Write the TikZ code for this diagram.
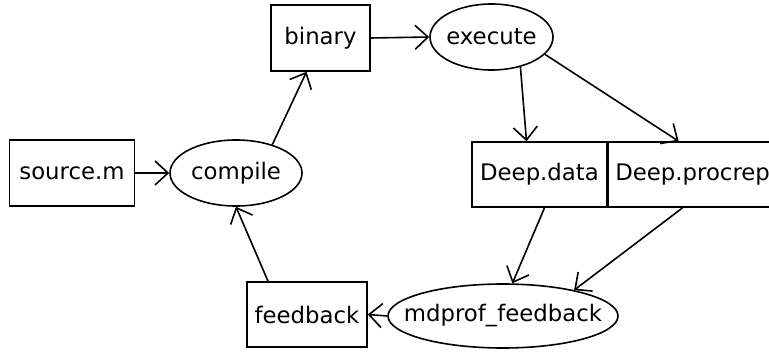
\documentclass[tikz,border=0pt]{standalone}
\usepackage{fontspec}
\setmainfont{DejaVu Sans}
\usetikzlibrary{shapes.geometric,arrows.meta}
\begin{document}
\begin{tikzpicture}[x=0.5pt,y=-0.5pt,
        every node/.style={font=\fontsize{11.4}{13}\selectfont,inner sep=0pt,line width=0.8pt},
        filebox/.style={draw,rectangle,minimum height=33pt},
        stepnode/.style={draw,ellipse,minimum height=33pt},
        flow/.style={line width=0.8pt,-{Straight Barb[length=6.5pt,width=12pt]}}]
    \useasboundingbox (0,0) rectangle (769,352);
    % files and steps
    \node[filebox,minimum width=62.5pt] (source) at (72,173) {source.m};
    \node[stepnode,minimum width=66pt] (compile) at (236,173) {compile};
    \node[filebox,minimum width=49.5pt] (binary) at (320.5,38) {binary};
    \node[stepnode,minimum width=61.5pt,inner xsep=-2pt] (execute) at (491.5,37) {execute};
    \node[filebox,minimum width=67.5pt,minimum height=32.5pt] (ddata) at (539.5,174.5) {Deep.data};
    \node[filebox,minimum width=84pt,minimum height=32.5pt,anchor=west] (procrep) at (ddata.east) {Deep.procrep};
    \node[stepnode,minimum width=115pt,minimum height=32pt,inner xsep=-9pt] (mdprof) at (503,316) {mdprof\_feedback};
    \node[filebox,minimum width=60pt,minimum height=32.5pt] (feedback) at (307,314.5) {feedback};
    % the loop
    \draw[flow] (source) -- (compile);
    \draw[flow] (compile.38) -- ([xshift=-7pt]binary.south);
    \draw[flow] (binary.east) -- (execute.west);
    \draw[flow] (execute.-46) -- ([xshift=-6.5pt]ddata.north);
    \draw[flow] (execute.-18) -- ([xshift=-7pt]procrep.north);
    \draw[flow] ([xshift=2.5pt]ddata.south) -- (mdprof.74);
    \draw[flow] ([xshift=-5pt]procrep.south) -- (mdprof.20);
    \draw[flow] (mdprof.west) -- (feedback.east);
    \draw[flow] ([xshift=-19.5pt]feedback.north) -- (compile.south);
\end{tikzpicture}
\end{document}
